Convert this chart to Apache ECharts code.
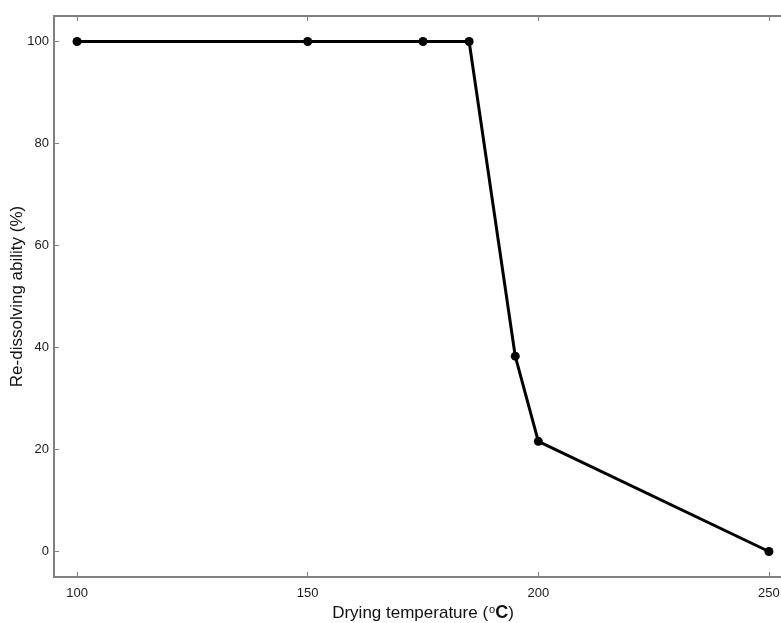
<!DOCTYPE html>
<html>
<head>
<meta charset="utf-8">
<script src="https://cdn.jsdelivr.net/npm/echarts@6/dist/echarts.min.js"></script>
<style>
  html, body { margin: 0; padding: 0; background: #fff; }
  #chart { width: 781px; height: 623px; }
</style>
</head>
<body>
<div id="chart"></div>
<script>
// Drying temperature (°C) and the measured re-dissolving ability (%)
const temperatures = [100, 150, 175, 185, 195, 200, 250];
const redissolving = [100, 100, 100, 100, 38.3, 21.6, 0];
const xTicks = [100, 150, 200, 250];
const yTicks = [0, 20, 40, 60, 80, 100];

const points = temperatures.map((t, i) => [t, redissolving[i]]);

const axisGray = '#808080';
const font = '"Liberation Sans", Arial, sans-serif';

const chart = echarts.init(document.getElementById('chart'), null, { renderer: 'canvas' });
chart.setOption({
  backgroundColor: '#fff',
  animation: false,
  grid: { left: 54, right: -11, top: 16, bottom: 46, containLabel: false, outerBoundsMode: 'none' },
  xAxis: [
    {
      type: 'value', min: 95, max: 255, position: 'bottom',
      name: '{a|Drying temperature (}{o|o}{c|C}{a|)}',
      nameLocation: 'middle', nameGap: 27, nameMoveOverlap: false,
      nameTextStyle: {
        rich: {
          a: { fontFamily: font, fontSize: 17, color: '#111' },
          o: { fontFamily: font, fontSize: 11, color: '#111', verticalAlign: 'top', padding: [0, 0, 8, 1] },
          c: { fontFamily: font, fontSize: 18, fontWeight: 'bold', color: '#111' }
        }
      },
      axisLine: { show: true, onZero: false, lineStyle: { color: axisGray, width: 2 } },
      axisTick: { show: true, inside: true, length: 5, customValues: xTicks, lineStyle: { color: axisGray, width: 1 } },
      axisLabel: { customValues: xTicks, margin: 10, fontFamily: font, fontSize: 13, color: '#1a1a1a' },
      splitLine: { show: false }
    },
    {
      type: 'value', min: 95, max: 255, position: 'top',
      axisLine: { show: true, onZero: false, lineStyle: { color: axisGray, width: 2 } },
      axisTick: { show: true, inside: true, length: 5, customValues: xTicks, lineStyle: { color: axisGray, width: 1 } },
      axisLabel: { show: false },
      splitLine: { show: false }
    }
  ],
  yAxis: {
    type: 'value', min: -5, max: 105,
    name: 'Re-dissolving ability (%)',
    nameLocation: 'middle', nameGap: 28, nameMoveOverlap: false,
    nameTextStyle: { fontFamily: font, fontSize: 17, color: '#111' },
    axisLine: { show: true, onZero: false, lineStyle: { color: axisGray, width: 2 } },
    axisTick: { show: true, inside: true, length: 5, customValues: yTicks, lineStyle: { color: axisGray, width: 1 } },
    axisLabel: { customValues: yTicks, margin: 5, fontFamily: font, fontSize: 13, color: '#1a1a1a' },
    splitLine: { show: false }
  },
  series: [{
    type: 'line',
    xAxisIndex: 0,
    data: points,
    symbol: 'circle',
    symbolSize: 9,
    lineStyle: { color: '#000', width: 3 },
    itemStyle: { color: '#000' },
    clip: false
  }]
});
</script>
</body>
</html>
